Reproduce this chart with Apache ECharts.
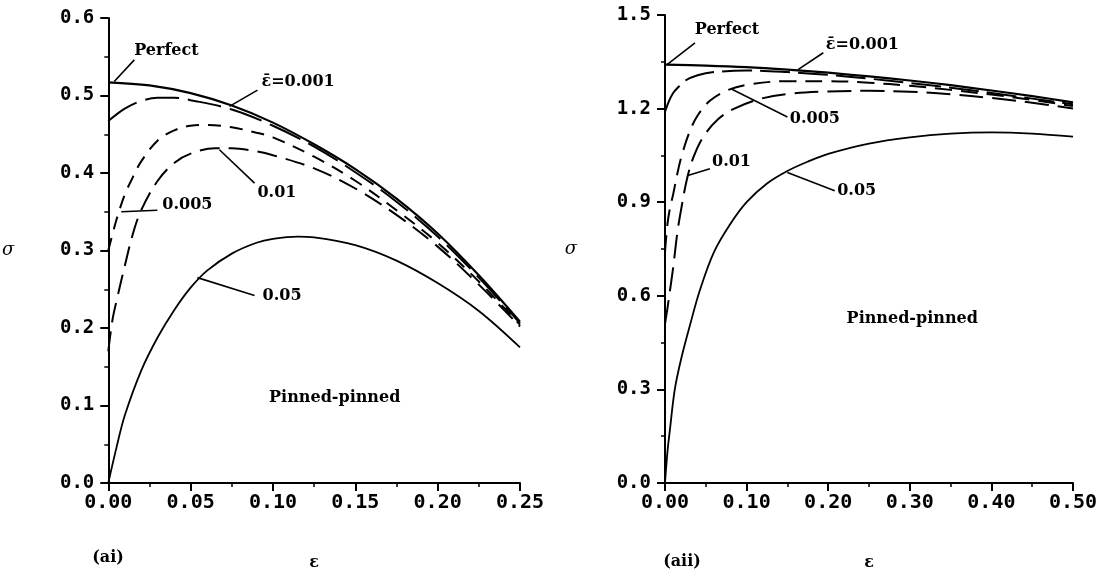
<!DOCTYPE html>
<html>
<head>
<meta charset="utf-8">
<script src="https://cdn.jsdelivr.net/npm/echarts@6/dist/echarts.min.js"></script>
<style>
  html, body { margin: 0; padding: 0; background: #fff; }
  #main { width: 1107px; height: 576px; }
</style>
</head>
<body>
<div id="main"></div>
<script>
// (ai) pinned-pinned, eps in [0, 0.25]  -- pairs of [eps, sigma]
var leftPerfect = [[0,0.517],[0.025,0.513],[0.05,0.503],[0.075,0.487],[0.1,0.465],[0.125,0.437],[0.15,0.405],[0.175,0.367],[0.2,0.322],[0.225,0.268],[0.25,0.208]];
var leftE001 = [[0,0.467],[0.01,0.483],[0.02,0.493],[0.03,0.497],[0.04,0.497],[0.05,0.494],[0.075,0.482],[0.1,0.461],[0.125,0.434],[0.15,0.401],[0.175,0.363],[0.2,0.318],[0.225,0.265],[0.25,0.206]];
var leftE005 = [[0,0.30],[0.005,0.34],[0.01,0.372],[0.015,0.395],[0.02,0.415],[0.03,0.442],[0.04,0.455],[0.05,0.461],[0.06,0.462],[0.075,0.459],[0.09,0.452],[0.1,0.446],[0.125,0.421],[0.15,0.39],[0.175,0.352],[0.2,0.31],[0.225,0.26],[0.25,0.204]];
var leftE01 = [[0,0.17],[0.0025,0.21],[0.005,0.235],[0.01,0.28],[0.015,0.322],[0.02,0.352],[0.03,0.39],[0.04,0.413],[0.05,0.425],[0.065,0.432],[0.075,0.432],[0.09,0.428],[0.1,0.423],[0.125,0.406],[0.15,0.38],[0.175,0.346],[0.2,0.305],[0.225,0.256],[0.25,0.202]];
var leftE05 = [[0,0],[0.005,0.046],[0.01,0.087],[0.02,0.145],[0.03,0.188],[0.04,0.223],[0.05,0.252],[0.06,0.274],[0.075,0.296],[0.09,0.31],[0.1,0.315],[0.115,0.318],[0.125,0.317],[0.15,0.307],[0.175,0.287],[0.2,0.258],[0.225,0.222],[0.25,0.175]];

// (aii) pinned-pinned, eps in [0, 0.5]
var rightPerfect = [[0,1.341],[0.05,1.338],[0.1,1.333],[0.15,1.325],[0.2,1.315],[0.25,1.303],[0.3,1.29],[0.35,1.275],[0.4,1.258],[0.45,1.24],[0.5,1.22]];
var rightE001 = [[0,1.19],[0.005,1.225],[0.01,1.25],[0.015,1.265],[0.025,1.29],[0.04,1.307],[0.06,1.317],[0.1,1.322],[0.15,1.317],[0.2,1.308],[0.25,1.296],[0.3,1.282],[0.35,1.267],[0.4,1.25],[0.45,1.232],[0.5,1.214]];
var rightE005 = [[0,0.74],[0.003,0.83],[0.006,0.88],[0.01,0.925],[0.015,0.99],[0.02,1.045],[0.03,1.125],[0.04,1.178],[0.055,1.225],[0.075,1.257],[0.1,1.276],[0.15,1.288],[0.2,1.288],[0.25,1.283],[0.3,1.273],[0.35,1.26],[0.4,1.245],[0.45,1.228],[0.5,1.208]];
var rightE01 = [[0,0.51],[0.003,0.56],[0.006,0.615],[0.01,0.69],[0.015,0.8],[0.02,0.88],[0.027,0.975],[0.035,1.045],[0.047,1.11],[0.065,1.166],[0.085,1.2],[0.115,1.23],[0.15,1.247],[0.2,1.255],[0.25,1.257],[0.3,1.254],[0.35,1.246],[0.4,1.234],[0.45,1.219],[0.5,1.2]];
var rightE05 = [[0,0],[0.003,0.1],[0.006,0.17],[0.012,0.3],[0.02,0.4],[0.03,0.5],[0.043,0.62],[0.06,0.74],[0.08,0.83],[0.1,0.9],[0.125,0.96],[0.15,1.0],[0.175,1.03],[0.2,1.055],[0.25,1.088],[0.3,1.108],[0.35,1.12],[0.4,1.124],[0.45,1.12],[0.5,1.11]];

// curve labels, in data coords of each panel
var leaders = [
    {grid: 0, from: [0.0036, 0.518], to: [0.0158, 0.546]},
    {grid: 0, from: [0.0736, 0.486], to: [0.0906, 0.507]},
    {grid: 0, from: [0.0675, 0.430], to: [0.0888, 0.387]},
    {grid: 0, from: [0.0079, 0.350], to: [0.0298, 0.352]},
    {grid: 0, from: [0.0541, 0.265], to: [0.0888, 0.242]},
    {grid: 1, from: [0.0025, 1.341], to: [0.0368, 1.411]},
    {grid: 1, from: [0.163, 1.325], to: [0.194, 1.379]},
    {grid: 1, from: [0.082, 1.262], to: [0.150, 1.173]},
    {grid: 1, from: [0.027, 0.985], to: [0.055, 1.007]},
    {grid: 1, from: [0.150, 0.995], to: [0.208, 0.937]}
];
var notes = [
    {grid: 0, at: [0.0353, 0.557], text: "Perfect", align: "center"},
    {grid: 0, at: [0.093, 0.518], text: "\u03b5\u0304=0.001", align: "left"},
    {grid: 0, at: [0.0906, 0.375], text: "0.01", align: "left"},
    {grid: 0, at: [0.0328, 0.359], text: "0.005", align: "left"},
    {grid: 0, at: [0.0937, 0.241], text: "0.05", align: "left"},
    {grid: 0, at: [0.1375, 0.110], text: "Pinned-pinned", align: "center"},
    {grid: 1, at: [0.076, 1.452], text: "Perfect", align: "center"},
    {grid: 1, at: [0.197, 1.404], text: "\u03b5\u0304=0.001", align: "left"},
    {grid: 1, at: [0.153, 1.166], text: "0.005", align: "left"},
    {grid: 1, at: [0.0576, 1.030], text: "0.01", align: "left"},
    {grid: 1, at: [0.211, 0.937], text: "0.05", align: "left"},
    {grid: 1, at: [0.303, 0.527], text: "Pinned-pinned", align: "center"}
];

var tickFont = "DejaVu Sans Mono";
var serifFont = "DejaVu Serif";

function xAxisOf (grid, max, interval) {
    return {
        type: "value", gridIndex: grid, min: 0, max: max, interval: interval,
        name: "\u03b5", nameLocation: "middle", nameGap: 72,
        nameTextStyle: {fontFamily: serifFont, fontWeight: "bold", fontSize: 16, color: "#000"},
        axisLine: {show: true, lineStyle: {color: "#000", width: 2}},
        axisTick: {show: true, inside: false, length: 8, lineStyle: {color: "#000", width: 2}},
        minorTick: {show: true, splitNumber: 2, length: 4, lineStyle: {color: "#000", width: 1.5}},
        splitLine: {show: false},
        axisLabel: {
            color: "#000", fontFamily: tickFont, fontWeight: "bold", fontSize: 20, margin: 10,
            formatter: function (v) { return v.toFixed(2); }
        }
    };
}
function yAxisOf (grid, max, interval, gap) {
    return {
        type: "value", gridIndex: grid, min: 0, max: max, interval: interval,
        name: "\u03c3", nameLocation: "middle", nameRotate: 0, nameGap: gap,
        nameTextStyle: {fontFamily: serifFont, fontStyle: "italic", fontSize: 18, color: "#000", padding: [0, 0, 24, 0]},
        axisLine: {show: true, lineStyle: {color: "#000", width: 2}},
        axisTick: {show: true, inside: false, length: 8, lineStyle: {color: "#000", width: 2}},
        minorTick: {show: true, splitNumber: 2, length: 4, lineStyle: {color: "#000", width: 1.5}},
        splitLine: {show: false},
        axisLabel: {
            color: "#000", fontFamily: tickFont, fontWeight: "bold", fontSize: 19, margin: 14,
            formatter: function (v) { return v.toFixed(1); }
        }
    };
}
function curve (grid, data, dash, width) {
    return {
        type: "line", xAxisIndex: grid, yAxisIndex: grid, data: data,
        smooth: 0.35, showSymbol: false, silent: true,
        lineStyle: {color: "#000", width: width || 2, type: dash || "solid"}
    };
}

var chart = echarts.init(document.getElementById("main"));
chart.setOption({
    backgroundColor: "#fff",
    animation: false,
    grid: [
        {left: 108, right: 587, top: 18, bottom: 87},
        {left: 665, right: 34, top: 15, bottom: 89}
    ],
    xAxis: [xAxisOf(0, 0.25, 0.05), xAxisOf(1, 0.5, 0.1)],
    yAxis: [yAxisOf(0, 0.6, 0.1, 94), yAxisOf(1, 1.5, 0.3, 88)],
    series: [
        curve(0, leftPerfect, "solid", 2.2),
        curve(0, leftE001, [34, 9], 2),
        curve(0, leftE005, [13, 9], 2),
        curve(0, leftE01, [20, 9], 2),
        curve(0, leftE05, "solid", 1.8),
        curve(1, rightPerfect, "solid", 2.2),
        curve(1, rightE001, [30, 8], 2),
        curve(1, rightE005, [17, 9], 2),
        curve(1, rightE01, [24, 9], 2),
        curve(1, rightE05, "solid", 1.8)
    ]
});

// leader lines and texts placed through the axes
var graphics = [];
leaders.forEach(function (a) {
    var p1 = chart.convertToPixel({gridIndex: a.grid}, a.from);
    var p2 = chart.convertToPixel({gridIndex: a.grid}, a.to);
    graphics.push({
        type: "line", silent: true,
        shape: {x1: p1[0], y1: p1[1], x2: p2[0], y2: p2[1]},
        style: {stroke: "#000", lineWidth: 1.6}
    });
});
notes.forEach(function (n) {
    var p = chart.convertToPixel({gridIndex: n.grid}, n.at);
    graphics.push({
        type: "text", silent: true, x: p[0], y: p[1],
        style: {text: n.text, fill: "#000", font: "bold 16px '" + serifFont + "'", align: n.align, verticalAlign: "middle"}
    });
});
graphics.push({type: "text", x: 108, y: 558, style: {text: "(ai)", fill: "#000", font: "bold 16px '" + serifFont + "'", align: "center", verticalAlign: "middle"}});
graphics.push({type: "text", x: 682, y: 562, style: {text: "(aii)", fill: "#000", font: "bold 16px '" + serifFont + "'", align: "center", verticalAlign: "middle"}});
chart.setOption({graphic: graphics});
</script>
</body>
</html>
